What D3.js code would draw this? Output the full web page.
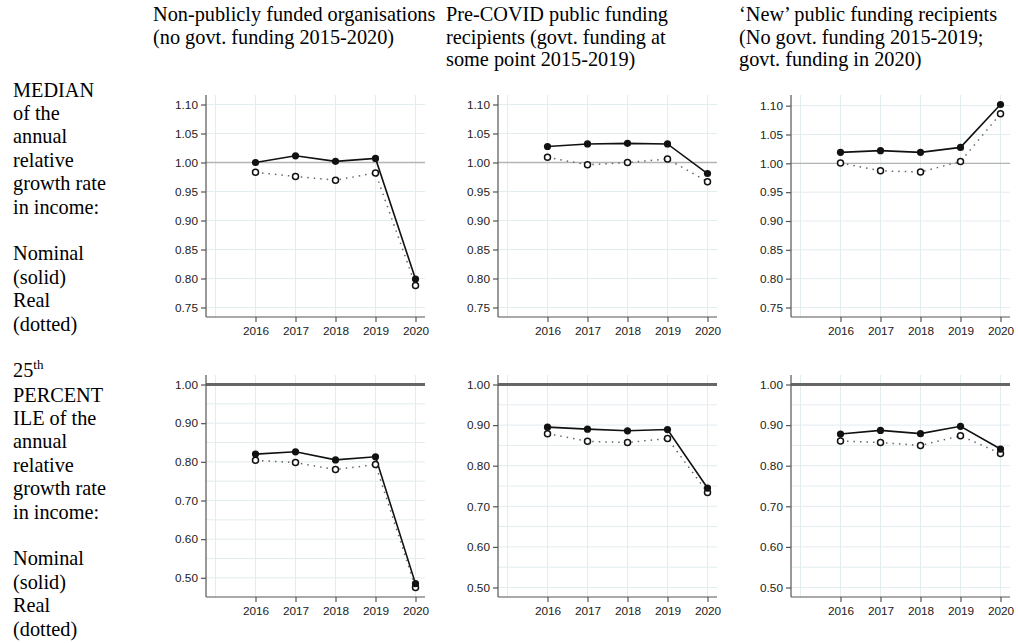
<!DOCTYPE html>
<html>
<head>
<meta charset="utf-8">
<script src="https://cdn.jsdelivr.net/npm/d3@7"></script>
<style>
  html, body { margin: 0; padding: 0; background: #fff; }
  svg { display: block; }
</style>
</head>
<body>
<svg id="chart" width="1018" height="643"></svg>
<script>
// ---------- DATA ----------
const years = [2016, 2017, 2018, 2019, 2020];
const gridYears = [2015, 2016, 2017, 2018, 2019, 2020];

const columnTitles = [
  ["Non-publicly funded organisations", "(no govt. funding 2015-2020)"],
  ["Pre-COVID public funding", "recipients (govt. funding at", "some point 2015-2019)"],
  ["\u2018New\u2019 public funding recipients", "(No govt. funding 2015-2019;", "govt. funding in 2020)"]
];

const medianTicks = [0.75, 0.80, 0.85, 0.90, 0.95, 1.00, 1.05, 1.10];
const medianGrid  = [0.75, 0.80, 0.85, 0.90, 0.95, 1.00, 1.05, 1.10];
const p25Ticks = [0.50, 0.60, 0.70, 0.80, 0.90, 1.00];
const p25Grid  = [0.50, 0.55, 0.60, 0.65, 0.70, 0.75, 0.80, 0.85, 0.90, 0.95];

// Median of annual relative growth rate (nominal = solid, real = dotted)
const medianNominal = [
  [1.000, 1.0115, 1.002, 1.007, 0.799],
  [1.0276, 1.032, 1.033, 1.032, 0.981],
  [1.019, 1.022, 1.019, 1.0276, 1.102]
];
const medianReal = [
  [0.983, 0.976, 0.9695, 0.982, 0.788],
  [1.009, 0.996, 1.000, 1.006, 0.967],
  [1.0006, 0.987, 0.985, 1.003, 1.086]
];
// 25th percentile
const p25Nominal = [
  [0.820, 0.826, 0.805, 0.813, 0.485],
  [0.895, 0.890, 0.886, 0.889, 0.745],
  [0.878, 0.887, 0.879, 0.897, 0.841]
];
const p25Real = [
  [0.804, 0.798, 0.780, 0.793, 0.475],
  [0.879, 0.860, 0.857, 0.867, 0.734],
  [0.861, 0.857, 0.850, 0.874, 0.830]
];

const rowLabels = [
  ["MEDIAN", "of the", "annual", "relative", "growth rate", "in income:", "", "Nominal", "(solid)", "Real", "(dotted)"],
  ["PERCENT", "ILE of the", "annual", "relative", "growth rate", "in income:", "", "Nominal", "(solid)", "Real", "(dotted)"]
];

// ---------- LAYOUT ----------
const svg = d3.select("#chart");
const serif = "'Liberation Serif', 'Times New Roman', serif";
const sans = "'Liberation Sans', Arial, Helvetica, sans-serif";
const titleSize = 20.3;
const lineH = 23.4;

const colAxisX = [206, 498, 791];
const colTitleX = [153, 446, 739];
const rowTop = [95, 375];
const plotW = 219, plotH = 222, pad = 9.5;

// Column titles
columnTitles.forEach((lines, c) => {
  const t = svg.append("text")
    .attr("font-family", serif).attr("font-size", titleSize).attr("fill", "#000");
  lines.forEach((l, i) => {
    t.append("tspan").attr("x", colTitleX[c]).attr("y", 20.7 + i * 22.8).text(l);
  });
});

// Row labels
const rowLabelStart = [96.5, 401.5];
rowLabels.forEach((lines, r) => {
  const t = svg.append("text")
    .attr("font-family", serif).attr("font-size", titleSize).attr("fill", "#000");
  lines.forEach((l, i) => {
    if (l) t.append("tspan").attr("x", 13).attr("y", rowLabelStart[r] + i * lineH).text(l);
  });
});
// "25th" with superscript
const sup = svg.append("text")
  .attr("font-family", serif).attr("font-size", titleSize).attr("fill", "#000")
  .attr("x", 13).attr("y", 376.5);
sup.append("tspan").text("25");
sup.append("tspan").attr("font-size", 13).attr("dy", -8).text("th");

// Panels
const rows = [
  { nominal: medianNominal, real: medianReal, ticks: medianTicks, grid: medianGrid, refColor: "#b4b4b4", refW: 1.3 },
  { nominal: p25Nominal, real: p25Real, ticks: p25Ticks, grid: p25Grid, refColor: "#666666", refW: 3 }
];

rows.forEach((row, r) => {
  for (let c = 0; c < 3; c++) {
    const x0 = colAxisX[c];
    const top = rowTop[r];
    const bottom = top + plotH;
    const right = x0 + plotW;
    const nom = row.nominal[c], real = row.real[c];

    const x = d3.scaleLinear().domain([2015, 2020]).range([x0 + pad, right - pad]);
    const ext = d3.extent([...row.ticks, ...nom, ...real]);
    const y = d3.scaleLinear().domain(ext).range([bottom - pad, top + pad]);

    const g = svg.append("g");

    // grid
    g.selectAll(".hg").data(row.grid).join("line")
      .attr("x1", x0).attr("x2", right)
      .attr("y1", d => y(d)).attr("y2", d => y(d))
      .attr("stroke", "#e3ecef").attr("stroke-width", 1);
    g.selectAll(".vg").data(gridYears).join("line")
      .attr("x1", d => x(d)).attr("x2", d => x(d))
      .attr("y1", top).attr("y2", bottom)
      .attr("stroke", "#e3ecef").attr("stroke-width", 1);

    // reference line at 1
    g.append("line")
      .attr("x1", x0).attr("x2", right)
      .attr("y1", y(1)).attr("y2", y(1))
      .attr("stroke", row.refColor).attr("stroke-width", row.refW);

    // axes
    const yAxis = d3.axisLeft(y).tickValues(row.ticks).tickFormat(d3.format(".2f")).tickSize(5).tickPadding(3);
    const ya = g.append("g").attr("transform", `translate(${x0},0)`).call(yAxis);
    ya.select(".domain").attr("d", `M0,${top}V${bottom}`);
    const xAxis = d3.axisBottom(x).tickValues(years).tickFormat(d3.format("d")).tickSize(5).tickPadding(5);
    const xa = g.append("g").attr("transform", `translate(0,${bottom})`).call(xAxis);
    xa.select(".domain").attr("d", `M${x0},0H${right}`);
    [ya, xa].forEach(a => {
      a.select(".domain").attr("stroke", "#555").attr("stroke-width", 1.2);
      a.selectAll(".tick line").attr("stroke", "#555").attr("stroke-width", 1.2);
      a.selectAll(".tick text").attr("font-family", sans).attr("font-size", 11.8).attr("fill", "#222");
    });

    // real (dotted)
    const line = d3.line().x((d, i) => x(years[i])).y(d => y(d));
    g.append("path").datum(real).attr("d", line)
      .attr("fill", "none").attr("stroke", "#666").attr("stroke-width", 1.5)
      .attr("stroke-dasharray", "1.5,5");
    // nominal (solid)
    g.append("path").datum(nom).attr("d", line)
      .attr("fill", "none").attr("stroke", "#111").attr("stroke-width", 1.6);

    g.selectAll(".rm").data(real).join("circle")
      .attr("cx", (d, i) => x(years[i])).attr("cy", d => y(d)).attr("r", 3)
      .attr("fill", "#fff").attr("stroke", "#111").attr("stroke-width", 1.5);
    g.selectAll(".nm").data(nom).join("circle")
      .attr("cx", (d, i) => x(years[i])).attr("cy", d => y(d)).attr("r", 3.6)
      .attr("fill", "#111");
  }
});
</script>
</body>
</html>
